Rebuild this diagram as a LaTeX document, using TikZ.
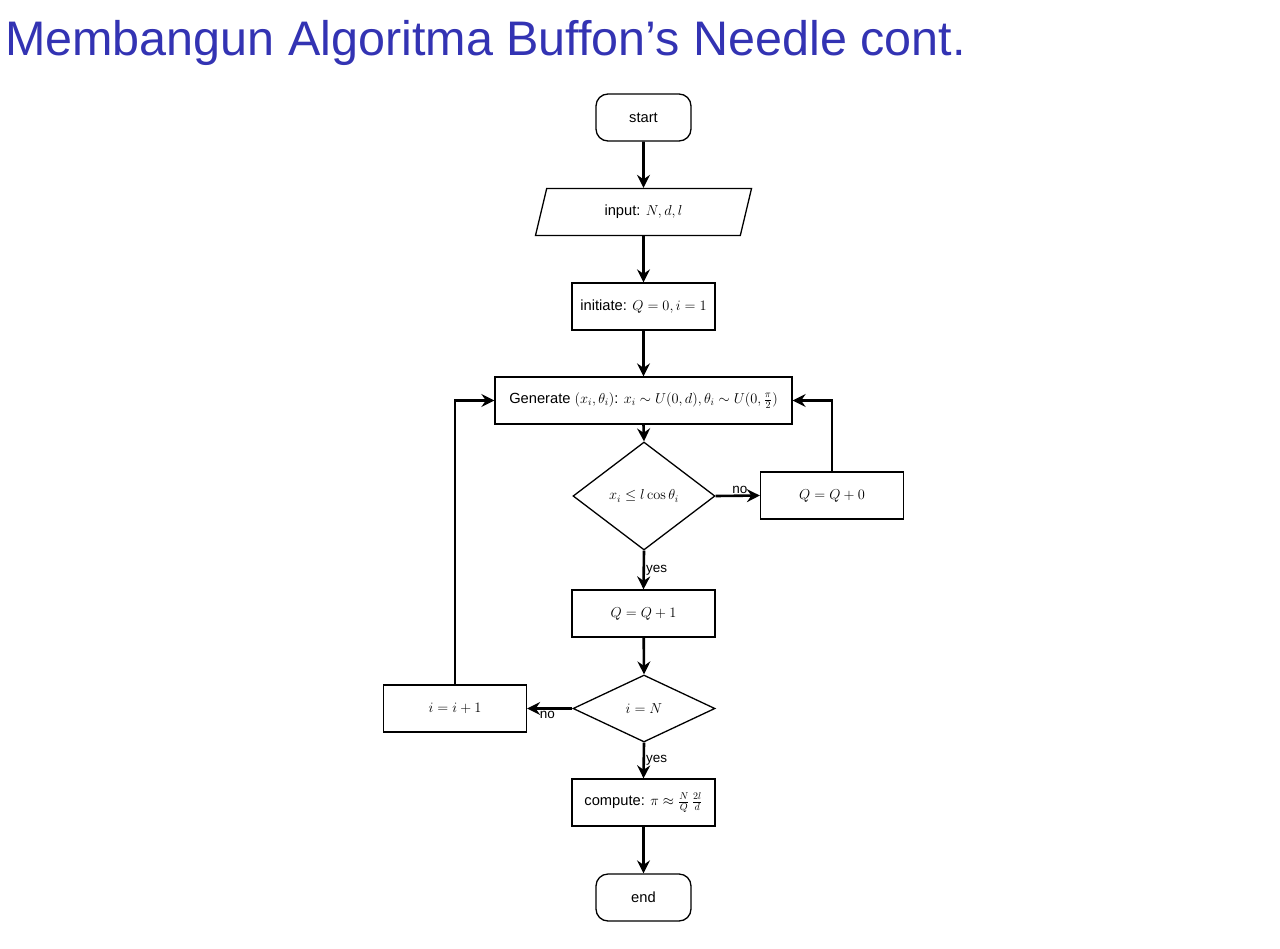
\documentclass[tikz,border=0pt]{standalone}
\usepackage[no-math]{fontspec}
\setmainfont{Liberation Sans}
\usetikzlibrary{arrows.meta,shapes.geometric}
\definecolor{titleblue}{RGB}{51,51,179}
\begin{document}
\begin{tikzpicture}[x=1pt,y=-1pt,
  txt/.style={font=\fontsize{14.7}{16}\selectfont},
  box/.style={draw,line width=1.3pt,minimum width=143pt,minimum height=47pt,inner sep=2pt,txt},
  term/.style={box,rounded corners=12pt,minimum width=95pt},
  io/.style={box,trapezium,trapezium left angle=75,trapezium right angle=105,minimum width=217pt,trapezium stretches=true},
  dec/.style={draw,line width=1.3pt,diamond,aspect=1.3,inner sep=0pt,txt},
  arr/.style={line width=2.6pt,-{Stealth[length=13pt,width=13pt,inset=4.5pt]}},
  lbl/.style={font=\fontsize{13.5}{15}\selectfont,inner sep=1pt}]
\useasboundingbox (0,0) rectangle (1280,948);
\node[anchor=base west,text=titleblue,font=\fontsize{48.5}{56}\selectfont,inner sep=0pt] (title) at (5,55) {Membangun Algoritma Buffon’s Needle cont.};
\node[term] (start) at (643.5,117.5) {start};
\node[io,minimum height=47pt] (input) at (643.5,212) {input: $N,d,l$};
\node[box] (init) at (643.5,306.5) {initiate: $Q=0,i=1$};
\node[box,minimum width=297pt] (gen) at (643.5,400.5) {Generate $(x_i,\theta_i)$: $x_i\sim U(0,d),\theta_i\sim U(0,\frac{\pi}{2})$};
\node[dec,minimum width=142pt,minimum height=108pt] (d1) at (644,496) {$x_i\leq l\cos\theta_i$};
\node[box] (q0) at (832,495.5) {$Q=Q+0$};
\node[box] (q1) at (643.5,613.5) {$Q=Q+1$};
\node[dec,minimum width=142pt,minimum height=67pt,aspect=2.1] (d2) at (644,708.5) {$i=N$};
\node[box] (inc) at (455,708.5) {$i=i+1$};
\node[box] (comp) at (643.5,802.5) {compute: $\pi\approx\frac{N}{Q}\,\frac{2l}{d}$};
\node[term] (end) at (643.5,897.5) {end};
\draw[arr] (start) -- (input);
\draw[arr] (input) -- (init);
\draw[arr] (init) -- (gen);
\draw[arr] (gen.south) -- (d1.north);
\draw[arr] (d1.east) -- node[lbl,above,pos=0.55] {no} (q0.west);
\draw[arr] (d1.south) -- node[lbl,right,pos=0.5] {yes} (q1.north);
\draw[arr] (q0.north) |- (gen.east);
\draw[arr] (q1) -- (d2.north);
\draw[arr] (d2.west) -- node[lbl,below,pos=0.55] {no} (inc.east);
\draw[arr] (d2.south) -- node[lbl,right,pos=0.5] {yes} (comp.north);
\draw[arr] (inc.north) |- (gen.west);
\draw[arr] (comp) -- (end);
\end{tikzpicture}
\end{document}
